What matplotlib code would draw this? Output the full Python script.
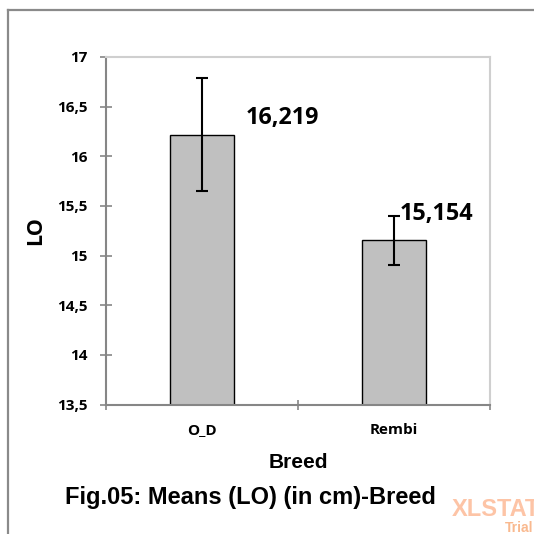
import matplotlib
matplotlib.use("Agg")
import matplotlib.pyplot as plt
from matplotlib.lines import Line2D

# ---- data ----
categories = ["O_D", "Rembi"]
means = [16.219, 15.154]
errors = [0.565, 0.244]
y_ticks = [13.5, 14, 14.5, 15, 15.5, 16, 16.5, 17]
title = "Fig.05: Means (LO) (in cm)-Breed"
x_title = "Breed"
y_title = "LO"

# ---- layout ----
label_offsets_px = [(80, 16.5), (42.5, 26)]
CAL = "Open Sans"

W = H = 534
fig = plt.figure(figsize=(W / 100, H / 100), dpi=100)
fig.patch.set_facecolor("white")

# outer frame (clipped on the right and bottom)
fig.add_artist(Line2D([8 / W, 1.01], [1 - 10 / H, 1 - 10 / H], color="#8a8a8a", lw=1.6,
                      transform=fig.transFigure))
fig.add_artist(Line2D([8 / W, 8 / W], [1 - 10 / H, -0.01], color="#8a8a8a", lw=1.6,
                      transform=fig.transFigure))

ax = fig.add_axes([106 / W, 1 - 404.5 / H, 384 / W, 347.5 / H])
x = list(range(len(categories)))
ax.bar(x, means, width=1 / 3, color="#c0c0c0", edgecolor="black", linewidth=1.0, zorder=2)
ax.errorbar(x, means, yerr=errors, fmt="none", ecolor="black", elinewidth=1.5,
            capsize=4.6, capthick=1.5, zorder=3)

ax.set_xlim(-0.5, len(categories) - 0.5)
ax.set_ylim(y_ticks[0], y_ticks[-1])
ax.set_yticks(y_ticks)
ax.set_yticklabels([("%g" % v).replace(".", ",") for v in y_ticks],
                   fontfamily=CAL, fontweight="bold", fontsize=11)
ax.set_xticks(x)
ax.set_xticklabels(categories, fontfamily=CAL, fontweight="bold", fontsize=11)
ax.set_xticks([i - 0.5 for i in range(len(categories) + 1)], minor=True)
ax.tick_params(axis="x", which="major", length=0, pad=13)
ax.tick_params(axis="x", which="minor", direction="inout", length=7, width=1.2, color="#868686")
ax.tick_params(axis="y", direction="inout", length=8, width=1.2, color="#868686", pad=9)

for side in ["left", "bottom"]:
    ax.spines[side].set_color("#868686")
    ax.spines[side].set_linewidth(1.5)
for side in ["top", "right"]:
    ax.spines[side].set_color("#cfcfcf")
    ax.spines[side].set_linewidth(1.5)

for i, (v, off) in enumerate(zip(means, label_offsets_px)):
    ax.annotate(("%.3f" % v).replace(".", ","), xy=(i, v), xytext=off,
                textcoords="offset pixels", ha="center", va="center",
                fontfamily=CAL, fontweight="bold", fontsize=16.8)

ax.set_xlabel(x_title, fontfamily="Liberation Sans", fontweight="bold", fontsize=15)
ax.xaxis.set_label_coords(0.5, (404.5 - 462) / 347.5)
ax.xaxis.label.set_va("center")
ax.set_ylabel(y_title, fontfamily=CAL, fontweight="bold", fontsize=15.5)
ax.yaxis.set_label_coords((36 - 106) / 384, 0.5)
ax.yaxis.label.set_va("center")

fig.text(250 / W, 1 - 497.5 / H, title, ha="center", va="center",
         fontfamily="Liberation Sans", fontweight="bold", fontsize=17)

# watermark
fig.text(452 / W, 1 - 509.5 / H, "XLSTAT", ha="left", va="center", color="#fdc4a6",
         fontfamily="Liberation Sans", fontweight="bold", fontsize=17)
fig.text(505 / W, 1 - 528 / H, "Trial", ha="left", va="center", color="#f9b98f",
         fontfamily="Liberation Sans", fontweight="bold", fontsize=10)

fig.savefig("out.png", dpi=100)
